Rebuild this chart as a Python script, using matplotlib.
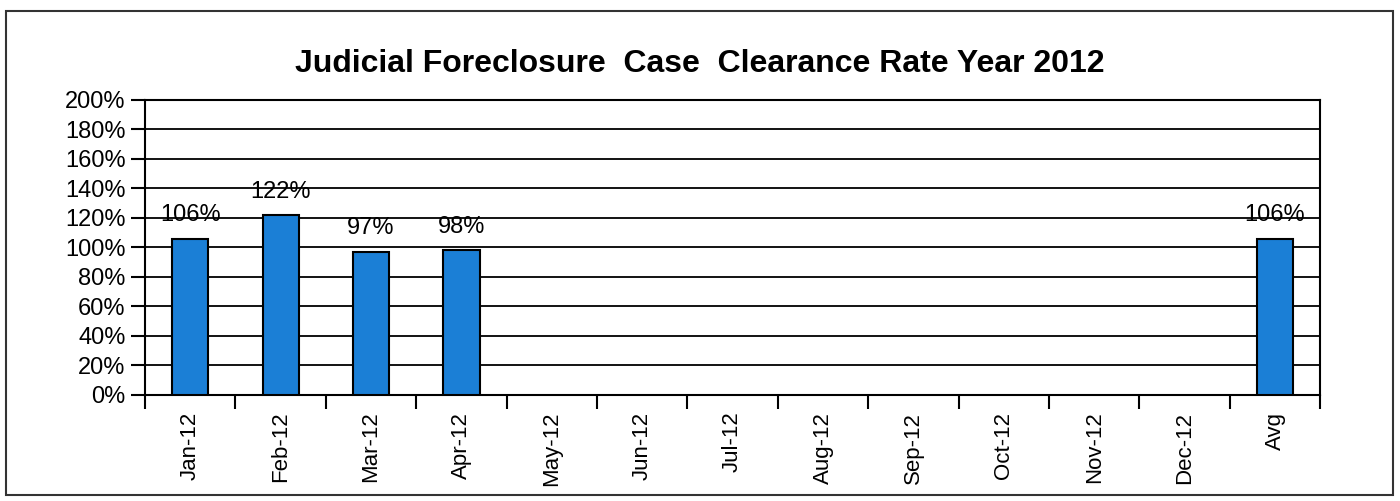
import matplotlib
matplotlib.use("Agg")
import matplotlib.pyplot as plt
from matplotlib.ticker import PercentFormatter, FixedLocator
from matplotlib.patches import Rectangle

plt.rcParams['font.family'] = ['Liberation Sans', 'DejaVu Sans']

# data
months = ["Jan-12", "Feb-12", "Mar-12", "Apr-12", "May-12", "Jun-12", "Jul-12",
          "Aug-12", "Sep-12", "Oct-12", "Nov-12", "Dec-12", "Avg"]
rates = [1.06, 1.22, 0.97, 0.98, None, None, None, None, None, None, None, None, 1.06]

fig = plt.figure(figsize=(14, 5.01), dpi=100)
ax = fig.add_axes([0.1036, 0.2116, 0.8394, 0.5888])

xs = list(range(len(months)))
for x, v in zip(xs, rates):
    if v is None:
        continue
    ax.bar(x, v, width=0.4, color="#1b7fd6", edgecolor="black", linewidth=1.5, zorder=3)
    ax.annotate(f"{round(v * 100)}%", (x, v), xytext=(0, 9), textcoords="offset points",
                ha="center", va="bottom", fontsize=17, zorder=4)

ax.set_xlim(-0.5, len(months) - 0.5)
ax.set_ylim(0, 2.0)
ax.set_yticks([i * 0.2 for i in range(11)])
ax.yaxis.set_major_formatter(PercentFormatter(1.0, decimals=0))
ax.yaxis.grid(True, color="black", linewidth=1.3, zorder=0)
ax.set_axisbelow(True)
ax.tick_params(axis="y", length=10, width=1.5, labelsize=17, direction="out", pad=4)

ax.set_xticks(xs)
ax.set_xticklabels(months, rotation=90, fontsize=16)
ax.tick_params(axis="x", which="major", length=0, pad=12)
ax.xaxis.set_minor_locator(FixedLocator([i + 0.5 for i in range(-1, len(months))]))
ax.tick_params(axis="x", which="minor", length=10, width=1.5, direction="out")

for s in ax.spines.values():
    s.set_color("black")
    s.set_linewidth(1.5)

fig.text(0.5, 0.872, "Judicial Foreclosure  Case  Clearance Rate Year 2012",
         ha="center", va="center", fontsize=23, fontweight="bold")

fig.patches.append(Rectangle((0.004, 0.012), 0.991, 0.966, transform=fig.transFigure,
                             fill=False, edgecolor="#333333", linewidth=1.5))

fig.savefig("out.png", dpi=100)
